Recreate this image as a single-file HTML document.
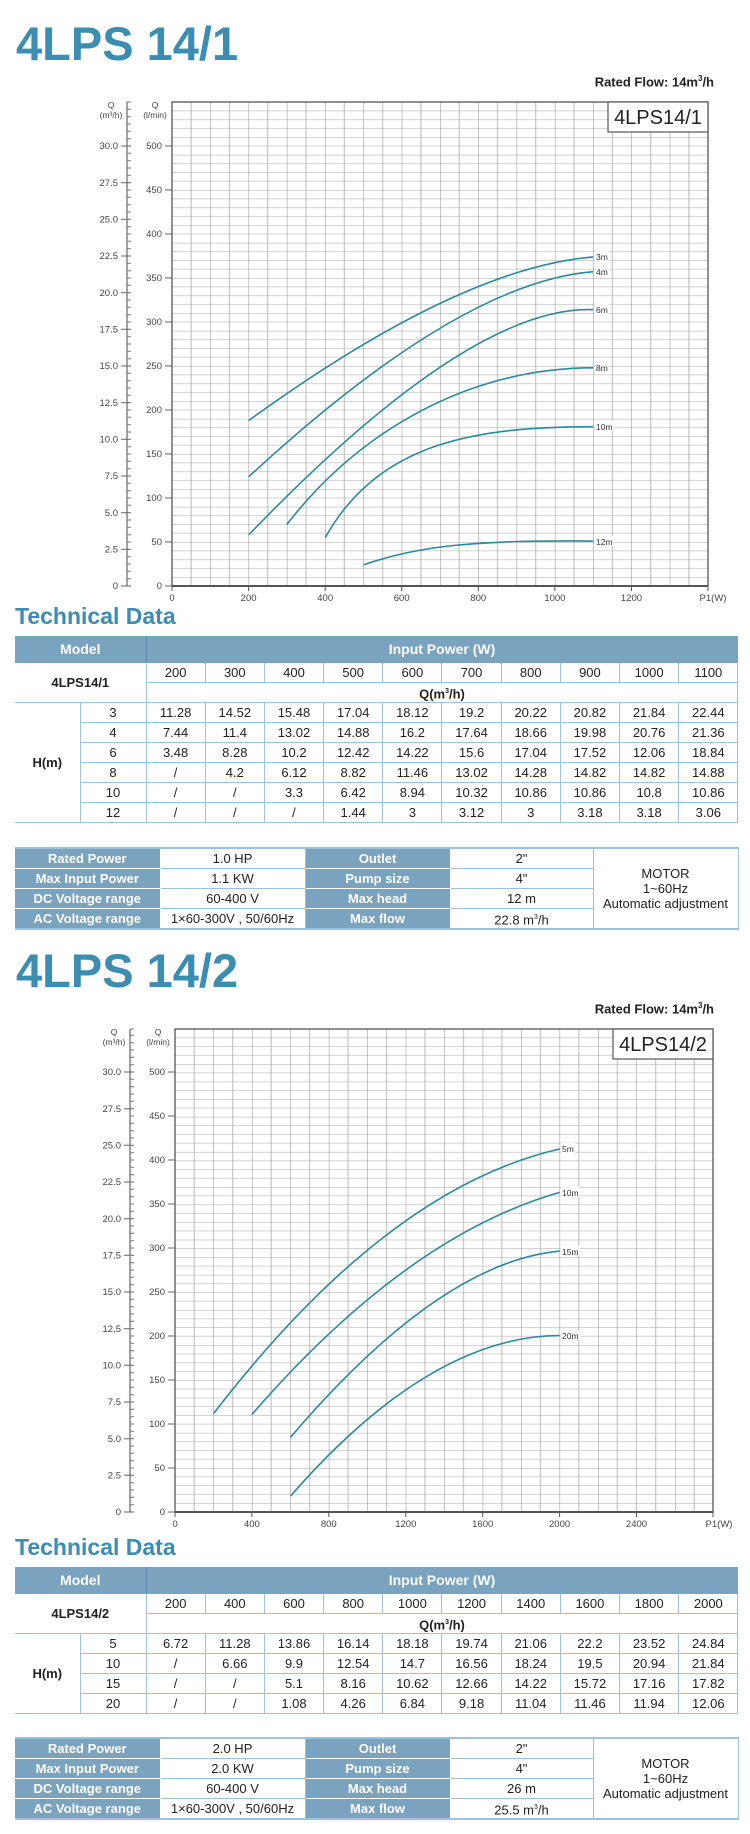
<!DOCTYPE html>
<html><head><meta charset="utf-8">
<style>
*{margin:0;padding:0;box-sizing:border-box}
body{width:750px;height:1834px;position:relative;background:#fff;font-family:"Liberation Sans Narrow","Liberation Sans",sans-serif;color:#222;overflow:hidden}
.title{position:absolute;left:16px;font-size:47px;line-height:47px;font-weight:bold;color:#3b8db2;white-space:nowrap}
.rated{position:absolute;right:36px;font-size:13px;line-height:13px;font-weight:bold;white-space:nowrap}
.td{position:absolute;left:15px;font-family:"Liberation Sans",sans-serif;font-size:23px;line-height:23px;font-weight:bold;color:#3b8db2;white-space:nowrap}
table{position:absolute;left:15px;width:723px;border-collapse:collapse;table-layout:fixed;font-size:13px;text-align:center}
td{border:1.5px solid #9dc1d8;padding:0;height:20px;line-height:17px;white-space:nowrap;overflow:hidden}
.h td{background:#7aa3bf;color:#fff;font-weight:bold;height:26px;font-size:14px;border-color:#7aa3bf}
.h td:first-child{border-right:1.5px solid #5b88a8}
.b{font-weight:bold}
.nl{border-left:none}
.info td.l{background:#7aa3bf;color:#fff;font-weight:bold;border-color:#fff}
.info{border-top:2px solid #9dc1d8;border-bottom:2px solid #9dc1d8}
.info td{border-left:none;border-right:1.5px solid #9dc1d8}
svg{position:absolute;left:0;top:0}
</style></head><body>

<div class="title" style="top:20px">4LPS 14/1</div>
<div class="rated" style="top:72px">Rated Flow: 14m<sup style="font-size:8px">3</sup>/h</div>

<svg width="750" height="1834" viewBox="0 0 750 1834" font-family="Liberation Sans, sans-serif">
<defs>
<pattern id="g1" x="172" y="102" width="38.29" height="17.6" patternUnits="userSpaceOnUse">
<line x1="0" y1="8.8" x2="38.29" y2="8.8" stroke="#d2d2d2" stroke-width="1"/>
<line x1="0" y1="0" x2="38.29" y2="0" stroke="#a5a5a5" stroke-width="1"/>
<line x1="19.14" y1="0" x2="19.14" y2="17.6" stroke="#b8b8b8" stroke-width="1"/>
<line x1="0" y1="0" x2="0" y2="17.6" stroke="#8e8e8e" stroke-width="1"/>
</pattern>
<pattern id="g2" x="175" y="1029" width="38.46" height="17.56" patternUnits="userSpaceOnUse">
<line x1="0" y1="8.78" x2="38.46" y2="8.78" stroke="#d2d2d2" stroke-width="1"/>
<line x1="0" y1="0" x2="38.46" y2="0" stroke="#a5a5a5" stroke-width="1"/>
<line x1="19.23" y1="0" x2="19.23" y2="17.56" stroke="#b8b8b8" stroke-width="1"/>
<line x1="0" y1="0" x2="0" y2="17.56" stroke="#8e8e8e" stroke-width="1"/>
</pattern>
</defs>

<!-- CHART 1 -->
<rect x="172" y="102" width="536" height="484" fill="url(#g1)"/>
<rect x="172" y="102" width="536" height="484" fill="none" stroke="#555" stroke-width="1.3"/>
<line x1="172" y1="586" x2="708" y2="586" stroke="#555" stroke-width="2"/>
<rect x="608" y="102" width="100" height="30" fill="#fff" stroke="#555" stroke-width="1.2"/>
<text x="658" y="124" font-size="20" text-anchor="middle" fill="#222" font-family="Liberation Sans Narrow, Liberation Sans, sans-serif">4LPS14/1</text>
<line x1="127" y1="102" x2="127" y2="586" stroke="#666" stroke-width="1.2"/>
<path stroke="#777" stroke-width="1" d="M127 578.7h4M127 571.3h4M127 564h4M127 556.7h4M127 542h4M127 534.7h4M127 527.3h4M127 520h4M127 505.3h4M127 498h4M127 490.7h4M127 483.3h4M127 468.7h4M127 461.3h4M127 454h4M127 446.7h4M127 432h4M127 424.7h4M127 417.3h4M127 410h4M127 395.3h4M127 388h4M127 380.7h4M127 373.3h4M127 358.7h4M127 351.3h4M127 344h4M127 336.7h4M127 322h4M127 314.7h4M127 307.3h4M127 300h4M127 285.3h4M127 278h4M127 270.7h4M127 263.3h4M127 248.7h4M127 241.3h4M127 234h4M127 226.7h4M127 212h4M127 204.7h4M127 197.3h4M127 190h4M127 175.3h4M127 168h4M127 160.7h4M127 153.3h4M127 138.7h4M127 131.3h4M127 124h4M127 116.7h4M127 109.3h4M127 102h4"/>
<path stroke="#666" stroke-width="1" d="M121 586h10M121 549.3h10M121 512.7h10M121 476h10M121 439.3h10M121 402.7h10M121 366h10M121 329.3h10M121 292.7h10M121 256h10M121 219.3h10M121 182.7h10M121 146h10"/>
<g font-size="9.5" fill="#444" text-anchor="end">
<text x="118" y="589">0</text><text x="118" y="552.5">2.5</text><text x="118" y="516">5.0</text><text x="118" y="479">7.5</text><text x="118" y="442.5">10.0</text><text x="118" y="406">12.5</text><text x="118" y="369">15.0</text><text x="118" y="332.5">17.5</text><text x="118" y="296">20.0</text><text x="118" y="259">22.5</text><text x="118" y="222.5">25.0</text><text x="118" y="186">27.5</text><text x="118" y="149">30.0</text>
</g>
<path stroke="#666" stroke-width="1" d="M165 586h7M165 542h7M165 498h7M165 454h7M165 410h7M165 366h7M165 322h7M165 278h7M165 234h7M165 190h7M165 146h7"/>
<g font-size="9.5" fill="#444" text-anchor="end">
<text x="162" y="589">0</text><text x="162" y="545">50</text><text x="162" y="501">100</text><text x="162" y="457">150</text><text x="162" y="413">200</text><text x="162" y="369">250</text><text x="162" y="325">300</text><text x="162" y="281">350</text><text x="162" y="237">400</text><text x="162" y="193">450</text><text x="162" y="149">500</text>
</g>
<g font-size="8.5" fill="#444" text-anchor="middle">
<text x="111" y="108">Q</text><text x="111" y="118">(m³/h)</text>
<text x="155" y="108">Q</text><text x="155" y="118">(l/min)</text>
</g>
<path stroke="#555" stroke-width="1" d="M172 586v5M248.6 586v5M325.2 586v5M401.7 586v5M478.3 586v5M554.9 586v5M631.5 586v5M708 586v5"/>
<g font-size="9.5" fill="#444" text-anchor="middle">
<text x="172" y="601">0</text><text x="248.6" y="601">200</text><text x="325.2" y="601">400</text><text x="401.7" y="601">600</text><text x="478.3" y="601">800</text><text x="554.9" y="601">1000</text><text x="631.5" y="601">1200</text><text x="713" y="601">P1(W)</text>
</g>
<g fill="none" stroke="#2b8a9b" stroke-width="1.6">
<path d="M248.6,420.6 Q459.1,268 593.2,256.9"/>
<path d="M248.6,476.9 Q459.1,282.3 593.2,271.7"/>
<path d="M248.6,535 Q470,305 593.2,309.7"/>
<path d="M286.9,524.4 C360,430 470,368 593.2,367.8"/>
<path d="M325.2,537.6 C380,440 480,427 593.2,426.7"/>
<path d="M363.4,564.9 C420,545 480,540 593.2,541.1"/>
</g>
<g font-size="8.5" fill="#333">
<rect x="595" y="251" width="14" height="10" fill="#fff"/><text x="596" y="260">3m</text>
<rect x="595" y="266" width="14" height="10" fill="#fff"/><text x="596" y="275">4m</text>
<rect x="595" y="304" width="14" height="10" fill="#fff"/><text x="596" y="313">6m</text>
<rect x="595" y="362" width="14" height="10" fill="#fff"/><text x="596" y="371">8m</text>
<rect x="595" y="421" width="19" height="10" fill="#fff"/><text x="596" y="430">10m</text>
<rect x="595" y="536" width="19" height="10" fill="#fff"/><text x="596" y="545">12m</text>
</g>

<!-- CHART 2 -->
<rect x="175" y="1029" width="538" height="483" fill="url(#g2)"/>
<rect x="175" y="1029" width="538" height="483" fill="none" stroke="#555" stroke-width="1.3"/>
<line x1="175" y1="1512" x2="713" y2="1512" stroke="#555" stroke-width="2"/>
<rect x="613" y="1029" width="100" height="30" fill="#fff" stroke="#555" stroke-width="1.2"/>
<text x="663" y="1051" font-size="20" text-anchor="middle" fill="#222" font-family="Liberation Sans Narrow, Liberation Sans, sans-serif">4LPS14/2</text>
<line x1="130" y1="1029" x2="130" y2="1512" stroke="#666" stroke-width="1.2"/>
<g transform="translate(3,926)">
<path stroke="#777" stroke-width="1" d="M127 578.7h4M127 571.3h4M127 564h4M127 556.7h4M127 542h4M127 534.7h4M127 527.3h4M127 520h4M127 505.3h4M127 498h4M127 490.7h4M127 483.3h4M127 468.7h4M127 461.3h4M127 454h4M127 446.7h4M127 432h4M127 424.7h4M127 417.3h4M127 410h4M127 395.3h4M127 388h4M127 380.7h4M127 373.3h4M127 358.7h4M127 351.3h4M127 344h4M127 336.7h4M127 322h4M127 314.7h4M127 307.3h4M127 300h4M127 285.3h4M127 278h4M127 270.7h4M127 263.3h4M127 248.7h4M127 241.3h4M127 234h4M127 226.7h4M127 212h4M127 204.7h4M127 197.3h4M127 190h4M127 175.3h4M127 168h4M127 160.7h4M127 153.3h4M127 138.7h4M127 131.3h4M127 124h4M127 116.7h4M127 109.3h4M127 103h4"/>
<path stroke="#666" stroke-width="1" d="M121 586h10M121 549.3h10M121 512.7h10M121 476h10M121 439.3h10M121 402.7h10M121 366h10M121 329.3h10M121 292.7h10M121 256h10M121 219.3h10M121 182.7h10M121 146h10"/>
<g font-size="9.5" fill="#444" text-anchor="end">
<text x="118" y="589">0</text><text x="118" y="552.5">2.5</text><text x="118" y="516">5.0</text><text x="118" y="479">7.5</text><text x="118" y="442.5">10.0</text><text x="118" y="406">12.5</text><text x="118" y="369">15.0</text><text x="118" y="332.5">17.5</text><text x="118" y="296">20.0</text><text x="118" y="259">22.5</text><text x="118" y="222.5">25.0</text><text x="118" y="186">27.5</text><text x="118" y="149">30.0</text>
</g>
<path stroke="#666" stroke-width="1" d="M165 586h7M165 542h7M165 498h7M165 454h7M165 410h7M165 366h7M165 322h7M165 278h7M165 234h7M165 190h7M165 146h7"/>
<g font-size="9.5" fill="#444" text-anchor="end">
<text x="162" y="589">0</text><text x="162" y="545">50</text><text x="162" y="501">100</text><text x="162" y="457">150</text><text x="162" y="413">200</text><text x="162" y="369">250</text><text x="162" y="325">300</text><text x="162" y="281">350</text><text x="162" y="237">400</text><text x="162" y="193">450</text><text x="162" y="149">500</text>
</g>
<g font-size="8.5" fill="#444" text-anchor="middle">
<text x="111" y="109">Q</text><text x="111" y="119">(m³/h)</text>
<text x="155" y="109">Q</text><text x="155" y="119">(l/min)</text>
</g>
</g>
<path stroke="#555" stroke-width="1" d="M175 1512v5M251.9 1512v5M328.8 1512v5M405.8 1512v5M482.7 1512v5M559.6 1512v5M636.5 1512v5M713 1512v5"/>
<g font-size="9.5" fill="#444" text-anchor="middle">
<text x="175" y="1527">0</text><text x="251.9" y="1527">400</text><text x="328.8" y="1527">800</text><text x="405.8" y="1527">1200</text><text x="482.7" y="1527">1600</text><text x="559.6" y="1527">2000</text><text x="636.5" y="1527">2400</text><text x="719" y="1527">P1(W)</text>
</g>
<g fill="none" stroke="#2b8a9b" stroke-width="1.6">
<path d="M213.5,1413.7 Q386.5,1188.6 559.6,1149"/>
<path d="M251.9,1414.5 Q405.9,1236.5 559.6,1192.4"/>
<path d="M290.4,1437.4 Q440,1262 559.6,1251.2"/>
<path d="M290.4,1496.2 Q430,1336 559.6,1335.5"/>
</g>
<g font-size="8.5" fill="#333">
<rect x="561" y="1143" width="14" height="10" fill="#fff"/><text x="562" y="1152">5m</text>
<rect x="561" y="1187" width="19" height="10" fill="#fff"/><text x="562" y="1196">10m</text>
<rect x="561" y="1246" width="19" height="10" fill="#fff"/><text x="562" y="1255">15m</text>
<rect x="561" y="1330" width="19" height="10" fill="#fff"/><text x="562" y="1339">20m</text>
</g>
</svg>

<div class="td" style="top:605px">Technical Data</div>
<table style="top:636px">
<colgroup><col style="width:65px"><col style="width:66px"><col span="10" style="width:59.2px"></colgroup>
<tr class="h"><td colspan="2" class="nl">Model</td><td colspan="10">Input Power (W)</td></tr>
<tr><td colspan="2" rowspan="2" class="b nl">4LPS14/1</td><td>200</td><td>300</td><td>400</td><td>500</td><td>600</td><td>700</td><td>800</td><td>900</td><td>1000</td><td>1100</td></tr>
<tr><td colspan="10" class="b">Q(m<sup style="font-size:7px">3</sup>/h)</td></tr>
<tr><td rowspan="6" class="b nl">H(m)</td><td>3</td><td>11.28</td><td>14.52</td><td>15.48</td><td>17.04</td><td>18.12</td><td>19.2</td><td>20.22</td><td>20.82</td><td>21.84</td><td>22.44</td></tr>
<tr><td>4</td><td>7.44</td><td>11.4</td><td>13.02</td><td>14.88</td><td>16.2</td><td>17.64</td><td>18.66</td><td>19.98</td><td>20.76</td><td>21.36</td></tr>
<tr><td>6</td><td>3.48</td><td>8.28</td><td>10.2</td><td>12.42</td><td>14.22</td><td>15.6</td><td>17.04</td><td>17.52</td><td>12.06</td><td>18.84</td></tr>
<tr><td>8</td><td>/</td><td>4.2</td><td>6.12</td><td>8.82</td><td>11.46</td><td>13.02</td><td>14.28</td><td>14.82</td><td>14.82</td><td>14.88</td></tr>
<tr><td>10</td><td>/</td><td>/</td><td>3.3</td><td>6.42</td><td>8.94</td><td>10.32</td><td>10.86</td><td>10.86</td><td>10.8</td><td>10.86</td></tr>
<tr><td>12</td><td>/</td><td>/</td><td>/</td><td>1.44</td><td>3</td><td>3.12</td><td>3</td><td>3.18</td><td>3.18</td><td>3.06</td></tr>
</table>

<table class="info" style="top:847px">
<colgroup><col style="width:145px"><col style="width:145px"><col style="width:145px"><col style="width:143px"><col style="width:145px"></colgroup>
<tr><td class="l">Rated Power</td><td>1.0 HP</td><td class="l">Outlet</td><td>2"</td><td rowspan="4" style="line-height:15px;white-space:normal">MOTOR<br>1~60Hz<br>Automatic adjustment</td></tr>
<tr><td class="l">Max Input Power</td><td>1.1 KW</td><td class="l">Pump size</td><td>4"</td></tr>
<tr><td class="l">DC Voltage range</td><td>60-400 V</td><td class="l">Max head</td><td>12 m</td></tr>
<tr><td class="l">AC Voltage range</td><td>1×60-300V , 50/60Hz</td><td class="l">Max flow</td><td>22.8 m<sup style="font-size:7px">3</sup>/h</td></tr>
</table>

<div class="title" style="top:947px">4LPS 14/2</div>
<div class="rated" style="top:999px">Rated Flow: 14m<sup style="font-size:8px">3</sup>/h</div>

<div class="td" style="top:1536px">Technical Data</div>
<table style="top:1567px">
<colgroup><col style="width:65px"><col style="width:66px"><col span="10" style="width:59.2px"></colgroup>
<tr class="h"><td colspan="2" class="nl">Model</td><td colspan="10">Input Power (W)</td></tr>
<tr><td colspan="2" rowspan="2" class="b nl">4LPS14/2</td><td>200</td><td>400</td><td>600</td><td>800</td><td>1000</td><td>1200</td><td>1400</td><td>1600</td><td>1800</td><td>2000</td></tr>
<tr><td colspan="10" class="b">Q(m<sup style="font-size:7px">3</sup>/h)</td></tr>
<tr><td rowspan="4" class="b nl">H(m)</td><td>5</td><td>6.72</td><td>11.28</td><td>13.86</td><td>16.14</td><td>18.18</td><td>19.74</td><td>21.06</td><td>22.2</td><td>23.52</td><td>24.84</td></tr>
<tr><td>10</td><td>/</td><td>6.66</td><td>9.9</td><td>12.54</td><td>14.7</td><td>16.56</td><td>18.24</td><td>19.5</td><td>20.94</td><td>21.84</td></tr>
<tr><td>15</td><td>/</td><td>/</td><td>5.1</td><td>8.16</td><td>10.62</td><td>12.66</td><td>14.22</td><td>15.72</td><td>17.16</td><td>17.82</td></tr>
<tr><td>20</td><td>/</td><td>/</td><td>1.08</td><td>4.26</td><td>6.84</td><td>9.18</td><td>11.04</td><td>11.46</td><td>11.94</td><td>12.06</td></tr>
</table>

<table class="info" style="top:1737px">
<colgroup><col style="width:145px"><col style="width:145px"><col style="width:145px"><col style="width:143px"><col style="width:145px"></colgroup>
<tr><td class="l">Rated Power</td><td>2.0 HP</td><td class="l">Outlet</td><td>2"</td><td rowspan="4" style="line-height:15px;white-space:normal">MOTOR<br>1~60Hz<br>Automatic adjustment</td></tr>
<tr><td class="l">Max Input Power</td><td>2.0 KW</td><td class="l">Pump size</td><td>4"</td></tr>
<tr><td class="l">DC Voltage range</td><td>60-400 V</td><td class="l">Max head</td><td>26 m</td></tr>
<tr><td class="l">AC Voltage range</td><td>1×60-300V , 50/60Hz</td><td class="l">Max flow</td><td>25.5 m<sup style="font-size:7px">3</sup>/h</td></tr>
</table>
</body></html>
